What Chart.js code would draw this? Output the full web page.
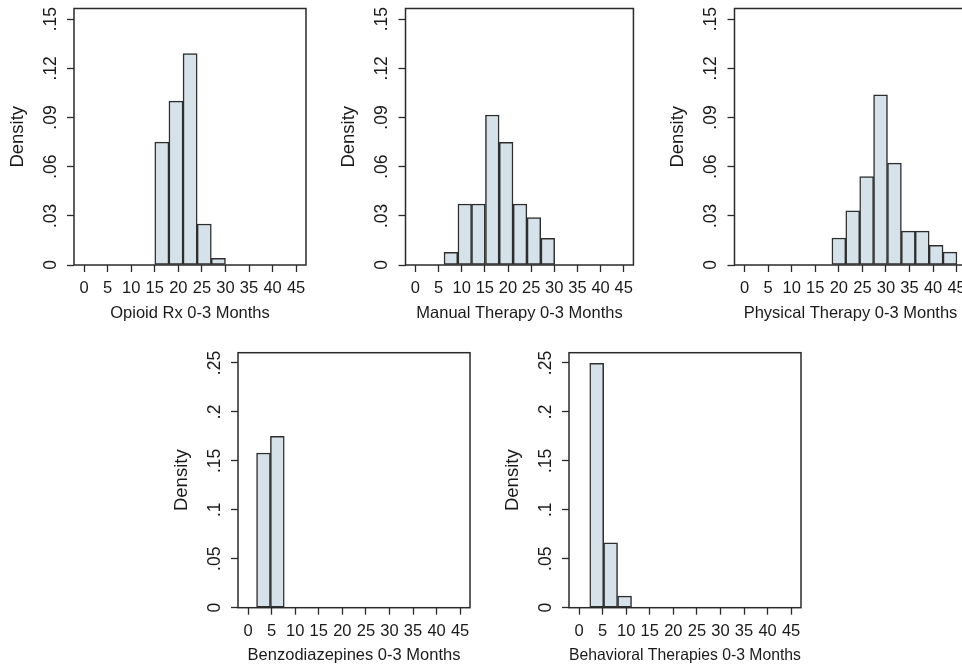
<!DOCTYPE html>
<html>
<head>
<meta charset="utf-8">
<script src="https://cdn.jsdelivr.net/npm/chart.js@4.4.0/dist/chart.umd.min.js"></script>
<style>
  body { margin: 0; background: #fff; overflow: hidden; width: 962px; height: 667px; position: relative; }
  canvas { position: absolute; }
</style>
</head>
<body>
<canvas id="opioid" width="320" height="330" style="left:0px;top:0px"></canvas>
<canvas id="manual" width="320" height="330" style="left:320px;top:0px"></canvas>
<canvas id="physical" width="340" height="330" style="left:640px;top:0px"></canvas>
<canvas id="benzo" width="320" height="337" style="left:160px;top:330px"></canvas>
<canvas id="behav" width="330" height="337" style="left:480px;top:330px"></canvas>
<script>
// tick values
const xTicks = [0, 5, 10, 15, 20, 25, 30, 35, 40, 45]
const topYTicks = [0, .03, .06, .09, .12, .15]
const topYLabels = ['0', '.03', '.06', '.09', '.12', '.15']
const lowYTicks = [0, .05, .1, .15, .2, .25]
const lowYLabels = ['0', '.05', '.1', '.15', '.2', '.25']

// bin midpoints + densities
const opioidMid = [16.5, 19.5, 22.5, 25.5, 28.5]
const opioidDens = [0.075, 0.100, 0.129, 0.025, 0.004]

const manualMid = [7.65, 10.65, 13.6, 16.6, 19.6, 22.6, 25.6, 28.6]
const manualDens = [0.0077, 0.0372, 0.0372, 0.0915, 0.0748, 0.0372, 0.0289, 0.0163]

const physicalMid = [20.0, 22.95, 25.9, 28.85, 31.8, 34.75, 37.7, 40.65, 43.6]
const physicalDens = [0.0165, 0.0331, 0.0539, 0.1039, 0.0622, 0.0207, 0.0207, 0.012, 0.0079]

const benzoMid = [3.26, 6.2]
const benzoDens = [0.158, 0.175]

const behavMid = [3.73, 6.68, 9.65]
const behavDens = [0.2496, 0.0662, 0.0119]

const FONT = '"Liberation Sans", Arial, sans-serif'
const INK = '#1a1a1a'

// draws the rotated y tick labels and the box around the plot
const framePlugin = {
    id: 'frame',
    afterDraw(chart, args, opts) {
        const {ctx, chartArea} = chart
        const y = chart.scales.y
        ctx.save()
        ctx.fillStyle = INK
        ctx.font = '17.5px ' + FONT
        ctx.textAlign = 'center'
        ctx.textBaseline = 'middle'
        opts.values.forEach((v, i) => {
            ctx.save()
            ctx.translate(chartArea.left - 23, y.getPixelForValue(v))
            ctx.rotate(-Math.PI / 2)
            ctx.fillText(opts.labels[i], 0, 0)
            ctx.restore()
        })
        ctx.strokeStyle = '#2a2a2a'
        ctx.lineWidth = 1.5
        ctx.strokeRect(chartArea.left, chartArea.top, chartArea.right - chartArea.left, chartArea.bottom - chartArea.top)
        ctx.restore()
    }
}

function makeHist(id, mids, dens, title, yTicks, yLabels, yMax, area, titlePad){
    const canv = document.getElementById(id)
    const W = canv.width, H = canv.height
    const yW = 67.5
    const xH = H - area.b
    return new Chart(canv, {
        type: 'bar',
        data: {
            datasets: [{
                data: mids.map((m, i) => ({x: m, y: dens[i]})),
                backgroundColor: '#d6e2e9',
                borderColor: '#2e2e2e',
                borderWidth: 1.5,
                borderSkipped: false,
                barPercentage: 1,
                categoryPercentage: 1
            }]
        },
        options: {
            responsive: false,
            animation: false,
            devicePixelRatio: 1,
            layout: { padding: { left: area.l - yW, top: area.t, right: W - area.r, bottom: 0 } },
            plugins: {
                legend: { display: false },
                tooltip: { enabled: false },
                frame: { values: yTicks, labels: yLabels }
            },
            scales: {
                x: {
                    type: 'linear',
                    min: -2.15,
                    max: 47.1,
                    offset: false,
                    afterBuildTicks: s => { s.ticks = xTicks.map(v => ({value: v})) },
                    afterFit: s => { s.height = xH },
                    ticks: { color: INK, font: { family: FONT, size: 16.5 }, padding: 7, maxRotation: 0, autoSkip: false },
                    grid: { drawOnChartArea: false, offset: false, tickLength: 7, tickColor: '#2a2a2a', tickWidth: 1.3 },
                    border: { display: false },
                    title: { display: true, text: title, color: INK, font: { family: FONT, size: 16.5 }, padding: { top: 0, bottom: titlePad } }
                },
                y: {
                    min: 0,
                    max: yMax,
                    afterBuildTicks: s => { s.ticks = yTicks.map(v => ({value: v})) },
                    afterFit: s => { s.width = yW },
                    ticks: { display: false },
                    grid: { drawOnChartArea: false, tickLength: 7, tickColor: '#2a2a2a', tickWidth: 1.3 },
                    border: { display: false },
                    title: { display: true, text: 'Density', color: INK, font: { family: FONT, size: 18.5 }, padding: 0 }
                }
            }
        },
        plugins: [framePlugin]
    })
}

makeHist('opioid', opioidMid, opioidDens, 'Opioid Rx 0-3 Months', topYTicks, topYLabels, 0.1565, {l: 74, t: 8.5, r: 306, b: 265}, 7)
makeHist('manual', manualMid, manualDens, 'Manual Therapy 0-3 Months', topYTicks, topYLabels, 0.1565, {l: 85.5, t: 8.5, r: 317.5, b: 265}, 7)
makeHist('physical', physicalMid, physicalDens, 'Physical Therapy 0-3 Months', topYTicks, topYLabels, 0.1565, {l: 94.5, t: 8.5, r: 326.5, b: 265}, 7)
makeHist('benzo', benzoMid, benzoDens, 'Benzodiazepines 0-3 Months', lowYTicks, lowYLabels, 0.2605, {l: 78, t: 22.7, r: 310, b: 277.7}, 2)
makeHist('behav', behavMid, behavDens, 'Behavioral Therapies 0-3 Months', lowYTicks, lowYLabels, 0.2605, {l: 89, t: 22.7, r: 321, b: 277.7}, 2)
</script>
</body>
</html>
